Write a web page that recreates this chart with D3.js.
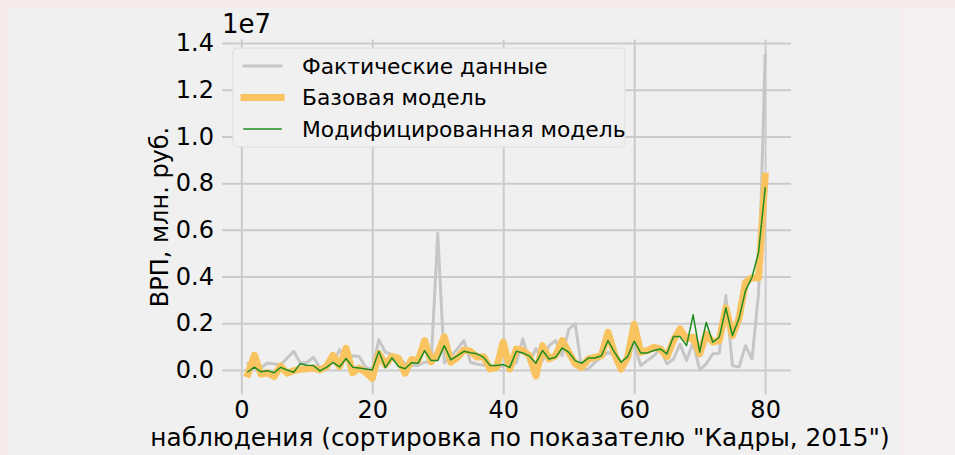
<!DOCTYPE html>
<html>
<head>
<meta charset="utf-8">
<script src="https://cdn.jsdelivr.net/npm/d3@7"></script>
<style>
  body { margin: 0; background: #f8eaea; }
  #chart { width: 955px; height: 455px; }
  text { font-family: "DejaVu Sans", sans-serif; }
</style>
</head>
<body>
<div id="chart"></div>
<script>
// observations 1..80, values in rubles (axis shows x 1e7)
var observations = d3.range(1, 81);

var actual = [
  270000, 290000, 110000, 300000, 260000, 220000, 500000, 800000, 300000, 320000,
  540000, 100000, 220000, 300000, 860000, 400000, 610000, 580000, 110000, 20000,
  1300000, 760000, 660000, 540000, 260000, 200000, 190000, 330000, 350000, 5850000,
  300000, 600000, 900000, 1260000, 330000, 250000, 200000, 160000, 140000, 160000,
  300000, 300000, 1330000, 330000, 920000, 400000, 1040000, 1260000, 610000, 1740000,
  1980000, 20000, 40000, 330000, 550000, 760000, 600000, -30000, 550000, 1110000,
  190000, 400000, 610000, 900000, 260000, 470000, 1110000, 400000, 1190000, 0,
  260000, 690000, 710000, 3190000, 190000, 120000, 1040000, 470000, 3300000, 13460000
];

var baseModel = [
  -170000, 630000, -180000, -120000, -280000, 160000, -140000, -30000, 30000, 50000,
  80000, 0, 140000, 630000, 150000, 930000, -120000, 80000, -100000, -360000,
  710000, 220000, 580000, 500000, -140000, 450000, 400000, 1260000, 350000, 700000,
  1420000, 330000, 540000, 850000, 800000, 550000, 570000, 40000, 110000, 1190000,
  40000, 900000, 830000, 610000, -260000, 1040000, 470000, 610000, 1260000, 760000,
  260000, 110000, 470000, 540000, 610000, 1610000, 690000, 40000, 540000, 1960000,
  760000, 830000, 970000, 900000, 570000, 1260000, 1760000, 1330000, 1400000, 690000,
  1540000, 1190000, 1260000, 2660000, 1470000, 2190000, 3750000, 3950000, 3950000, 8300000
];

var modModel = [
  -80000, 120000, -80000, -30000, -120000, 110000, 0, -100000, 270000, 200000,
  190000, -40000, 110000, 320000, 130000, 490000, 120000, 80000, 40000, 0,
  800000, 100000, 520000, 150000, 50000, 310000, 290000, 830000, 400000, 400000,
  1040000, 430000, 610000, 800000, 740000, 690000, 540000, 190000, 190000, 230000,
  110000, 800000, 730000, 590000, 290000, 830000, 470000, 540000, 940000, 760000,
  400000, 290000, 510000, 510000, 610000, 1260000, 750000, 330000, 570000, 1230000,
  730000, 730000, 830000, 900000, 690000, 1430000, 1430000, 1040000, 2360000, 760000,
  2040000, 1190000, 1400000, 2660000, 1470000, 2190000, 3400000, 3970000, 5040000, 7790000
];

var xTicks = [0, 20, 40, 60, 80];
var yTicks = [0, 2000000, 4000000, 6000000, 8000000, 10000000, 12000000, 14000000];
var legendNames = ["Фактические данные", "Базовая модель", "Модифицированная модель"];

var W = 955, H = 455;
var plotLeft = 222, plotRight = 791, plotTop = 39.5, plotBottom = 394.5;

var svg = d3.select("#chart")
  .append("svg")
  .attr("width", W)
  .attr("height", H);

// figure background
svg.append("rect")
  .attr("x", 900).attr("y", 8)
  .attr("width", 55).attr("height", H - 8)
  .attr("fill", "#f6efef");
svg.append("rect")
  .attr("x", 8).attr("y", 8)
  .attr("width", 892).attr("height", H - 8)
  .attr("fill", "#f0f0f0");

// matplotlib style 5% margins around the data
var xExt = d3.extent(observations);
var xPad = (xExt[1] - xExt[0]) * 0.05;
var allY = actual.concat(baseModel, modModel);
var yExt = d3.extent(allY);
var yPad = (yExt[1] - yExt[0]) * 0.05;

var x = d3.scaleLinear()
  .domain([xExt[0] - xPad, xExt[1] + xPad])
  .range([plotLeft, plotRight]);

var y = d3.scaleLinear()
  .domain([yExt[0] - yPad, yExt[1] + yPad])
  .range([plotBottom, plotTop]);

// grid + ticks
svg.append("g")
  .attr("transform", "translate(" + plotLeft + ",0)")
  .call(d3.axisLeft(y)
    .tickValues(yTicks)
    .tickSize(-(plotRight - plotLeft))
    .tickPadding(8)
    .tickFormat(function(d){ return (d / 1e7).toFixed(1); }));

svg.append("g")
  .attr("transform", "translate(0," + plotBottom + ")")
  .call(d3.axisBottom(x)
    .tickValues(xTicks)
    .tickSize(-(plotBottom - plotTop))
    .tickPadding(6)
    .tickFormat(d3.format("d")));

svg.selectAll(".domain").remove();
svg.selectAll(".tick line")
  .attr("stroke", "#cbcbcb")
  .attr("stroke-width", 2);
svg.selectAll(".tick text")
  .attr("fill", "#000")
  .style("font-size", "24px")
  .style("font-family", "DejaVu Sans");

// series
var line = function(vals){
  return d3.line()
    .x(function(d, i){ return x(observations[i]); })
    .y(function(d){ return y(d); })(vals);
};

svg.append("path")
  .attr("d", line(actual))
  .attr("fill", "none")
  .attr("stroke", "#c6c6c6")
  .attr("stroke-width", 3)
  .attr("stroke-linejoin", "round")
  .attr("stroke-linecap", "square");

svg.append("path")
  .attr("d", line(baseModel))
  .attr("fill", "none")
  .attr("stroke", "#f9c360")
  .attr("stroke-width", 7)
  .attr("stroke-linejoin", "round")
  .attr("stroke-linecap", "square");

svg.append("path")
  .attr("d", line(modModel))
  .attr("fill", "none")
  .attr("stroke", "#1e8c1e")
  .attr("stroke-width", 1.5)
  .attr("stroke-linejoin", "round")
  .attr("stroke-linecap", "square");

// labels
svg.append("text")
  .attr("x", plotLeft)
  .attr("y", 33)
  .style("font-size", "26px")
  .text("1e7");

svg.append("text")
  .attr("transform", "translate(168," + ((plotTop + plotBottom) / 2) + ") rotate(-90)")
  .attr("text-anchor", "middle")
  .style("font-size", "24px")
  .text("ВРП, млн. руб.");

svg.append("text")
  .attr("x", 520)
  .attr("y", 446)
  .attr("text-anchor", "middle")
  .style("font-size", "24.8px")
  .text("наблюдения (сортировка по показателю \"Кадры, 2015\")");

// legend
var legend = svg.append("g");
legend.append("rect")
  .attr("x", 233).attr("y", 48)
  .attr("width", 392).attr("height", 99)
  .attr("rx", 4)
  .attr("fill", "#f0f0f0")
  .attr("stroke", "#dedede");

var legendStyle = [
  {color: "#c6c6c6", width: 3},
  {color: "#f9c360", width: 7},
  {color: "#1e8c1e", width: 1.5}
];

var item = legend.selectAll(".item")
  .data(legendNames)
  .enter()
  .append("g")
  .attr("transform", function(d, i){ return "translate(0," + (66 + i * 31.5) + ")"; });

item.append("line")
  .attr("x1", 244).attr("x2", 281)
  .attr("stroke", function(d, i){ return legendStyle[i].color; })
  .attr("stroke-width", function(d, i){ return legendStyle[i].width; })
  .attr("stroke-linecap", "square");

item.append("text")
  .attr("x", 302)
  .attr("dy", "0.35em")
  .style("font-size", "21.8px")
  .text(function(d){ return d; });
</script>
</body>
</html>
